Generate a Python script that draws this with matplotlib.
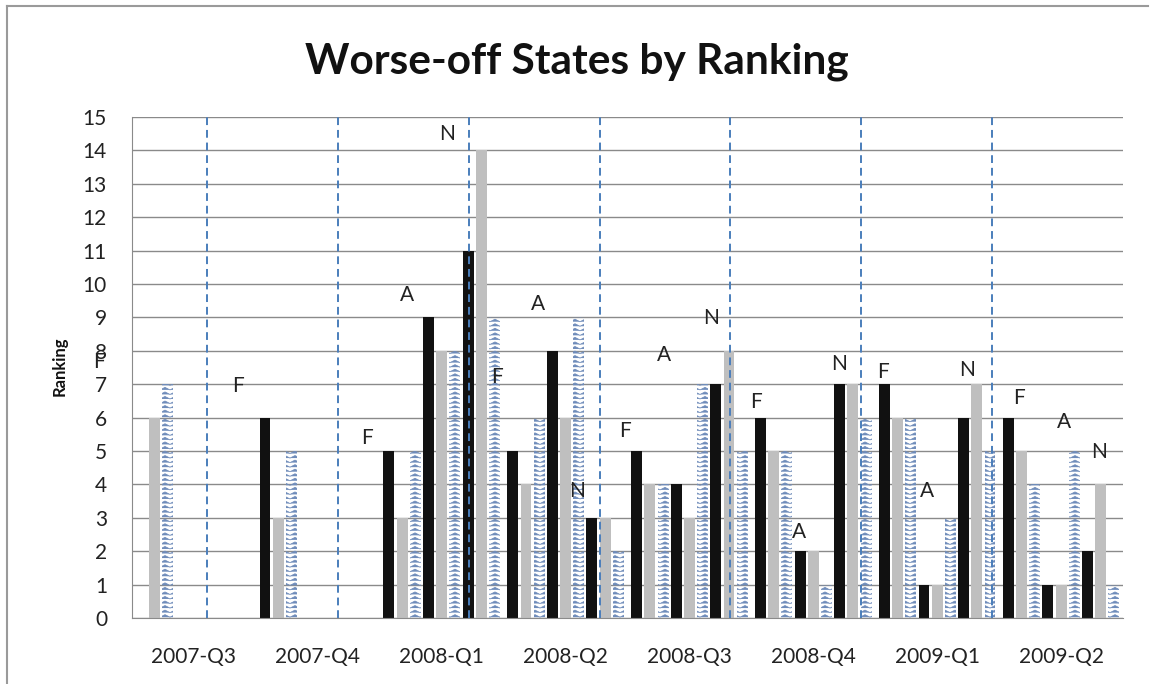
import numpy as np
import matplotlib
matplotlib.use('Agg')
import matplotlib.pyplot as plt
from matplotlib import hatch as mhatch
from matplotlib.path import Path
from matplotlib.lines import Line2D

# Datos
quarters = ['2007-Q3', '2007-Q4', '2008-Q1', '2008-Q2',
            '2008-Q3', '2008-Q4', '2009-Q1', '2009-Q2']

f_black = [0, 6, 5, 5, 5, 6, 7, 6]
f_gray = [6, 3, 3, 4, 4, 5, 6, 5]
f_hatch = [7, 5, 5, 6, 4, 5, 6, 4]
a_black = [0, 0, 9, 8, 4, 2, 1, 1]
a_gray = [0, 0, 8, 6, 3, 2, 1, 1]
a_hatch = [0, 0, 8, 9, 7, 1, 3, 5]
n_black = [0, 0, 11, 3, 7, 7, 6, 2]
n_gray = [0, 0, 14, 3, 8, 7, 7, 4]
n_hatch = [0, 0, 9, 2, 5, 6, 5, 1]

# Letras F/A/N sobre los grupos (posición en unidades de trimestre, altura)
letter_txt = ['F', 'F', 'F', 'A', 'N', 'F', 'A', 'N', 'F', 'A', 'N',
              'F', 'A', 'N', 'F', 'A', 'N', 'F', 'A', 'N']
letter_x = [-0.77, 0.355, 1.395, 1.718, 2.04, 2.444, 2.774, 3.089, 3.476, 3.798,
            4.177, 4.54, 4.887, 5.21, 5.565, 5.919, 6.242, 6.661, 7.024, 7.306]
letter_y = [7.65, 6.95, 5.4, 9.68, 14.49, 7.22, 9.41, 3.8, 5.61, 7.86,
            8.98, 6.47, 2.57, 7.59, 7.38, 3.8, 7.43, 6.58, 5.88, 4.97]

# Separadores verticales punteados
sep_x = [0.105, 1.161, 2.218, 3.274, 4.331, 5.387, 6.444]


# Trama en zigzag (sustituye a la de estrellas '*')
class ZigZagHatch(mhatch.HatchPatternBase):
    def __init__(self, hatch, density):
        self.rows = 22 if '*' in hatch else 0
        self.periods = 10
        self.num_vertices = self.rows * (2 * self.periods + 1)

    def set_vertices_and_codes(self, vertices, codes):
        npts = 2 * self.periods + 1
        xs = np.linspace(0, 1, npts)
        amp = 0.55 / self.rows
        up = np.where(np.arange(npts) % 2 == 0, -amp / 2, amp / 2)
        for j in range(self.rows):
            y0 = (j + 0.5) / self.rows
            vertices[j * npts:(j + 1) * npts, 0] = xs
            vertices[j * npts:(j + 1) * npts, 1] = y0 + up
            codes[j * npts] = Path.MOVETO
            codes[j * npts + 1:(j + 1) * npts] = Path.LINETO


for k, h in enumerate(mhatch._hatch_types):
    if h.__name__ == 'Stars':
        mhatch._hatch_types[k] = ZigZagHatch

plt.rcParams['font.family'] = ['Lato', 'DejaVu Sans']
plt.rcParams['hatch.linewidth'] = 0.55

W, H = 1151, 684
fig = plt.figure(figsize=(W / 100, H / 100), dpi=100)
ax = fig.add_axes([132 / W, 66 / H, 991 / W, 501 / H])

x = np.arange(len(quarters))
pitch = 0.1065
width = 0.088
series = [f_black, f_gray, f_hatch, a_black, a_gray, a_hatch, n_black, n_gray, n_hatch]
styles = ['black', 'gray', 'hatch'] * 3

for i, (vals, st) in enumerate(zip(series, styles)):
    pos = x + (i - 4) * pitch
    if st == 'black':
        ax.bar(pos, vals, width, color='#111111', linewidth=0, zorder=2)
    elif st == 'gray':
        ax.bar(pos, vals, width, color='#bfbfbf', linewidth=0, zorder=2)
    else:
        ax.bar(pos, vals, width, facecolor='none', edgecolor='#6f8cba',
               hatch='*', linewidth=0, zorder=2)

for sx in sep_x:
    ax.axvline(sx, color='#4a7ebb', lw=1.4, ls=(0, (4, 2.5)), zorder=3)

for t, lx, ly in zip(letter_txt, letter_x, letter_y):
    ax.text(lx, ly, t, ha='center', va='center', fontsize=15,
            color='#222222', zorder=4, clip_on=False)

ax.set_xlim(-0.5, 7.5)
ax.set_ylim(0, 15)
ax.set_yticks(range(16))
ax.set_xticks(x)
ax.set_xticklabels(quarters)
ax.yaxis.grid(True, color='#8a8a8a', lw=1)
ax.set_axisbelow(True)
ax.tick_params(axis='y', length=0, pad=18, labelsize=15, colors='#222222')
ax.tick_params(axis='x', length=0, pad=21, labelsize=15, colors='#222222')
for s in ['top', 'right']:
    ax.spines[s].set_visible(False)
ax.spines['left'].set_color('#8a8a8a')
ax.spines['bottom'].set_color('#8a8a8a')

fig.text(577 / W, 1 - 62 / H, 'Worse-off States by Ranking', ha='center', va='center',
         fontsize=30.5, fontweight='bold', color='#111111')
fig.text(60 / W, 1 - 366 / H, 'Ranking', rotation=90, ha='center', va='center',
         fontsize=12, fontweight='bold', color='#111111')

# Marco del gráfico
fig.add_artist(Line2D([7 / W, 1148 / W], [1 - 6 / H] * 2, transform=fig.transFigure,
                      color='#9a9a9a', lw=1.5))
fig.add_artist(Line2D([7 / W] * 2, [0, 1 - 6 / H], transform=fig.transFigure,
                      color='#9a9a9a', lw=1.5))

fig.savefig('out.png', dpi=100)
